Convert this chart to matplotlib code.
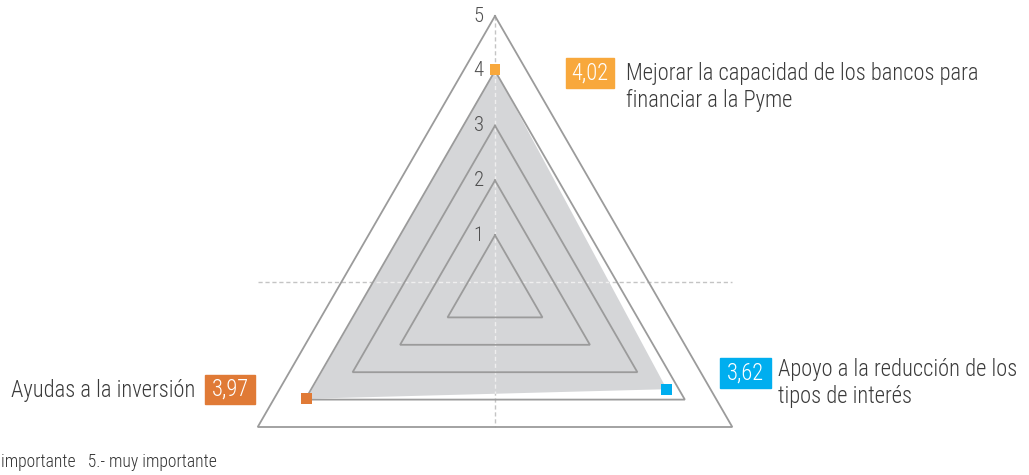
import numpy as np
import matplotlib.pyplot as plt
from matplotlib.patches import Rectangle
from matplotlib import font_manager

# pick a condensed face if there is one
avail = {f.name for f in font_manager.fontManager.ttflist}
cands = ['Roboto Condensed', 'Barlow Semi Condensed', 'Asap Condensed',
         'Archivo Narrow', 'Liberation Sans Narrow', 'DejaVu Sans']
FONT = next(f for f in cands if f in avail)
plt.rcParams['font.family'] = [FONT, 'DejaVu Sans']
plt.rcParams['font.weight'] = 'light'

# data
categories = ['Mejorar la capacidad de los bancos para\nfinanciar a la Pyme',
              'Apoyo a la reducción de los\ntipos de interés',
              'Ayudas a la inversión']
values = np.array([4.02, 3.62, 3.97])
colors = ['#f8a83c', '#00aeef', '#e07a36']
levels = [1, 2, 3, 4, 5]
footer = 'importante   5.- muy importante'

W, H = 1029, 475
UNIT = 54.8          # px per unit on the radial scale
CX, CY = 495, 185    # centre of the triangle, px from bottom-left

fig = plt.figure(figsize=(W / 100, H / 100), dpi=100)
renderer = fig.canvas.get_renderer()


def fit(txt, width_px, base=20):
    t = fig.text(0, 0, txt, fontsize=base)
    w = t.get_window_extent(renderer).width
    t.remove()
    return base * width_px / w


FS = min(fit(categories[0].split('\n')[0], 352), 18)
FS_FOOT = min(fit(footer, 216), 13)
FS_TICK = FS * 0.92

ax = fig.add_axes([0, 0, 1, 1])
ax.set_xlim(-CX / UNIT, (W - CX) / UNIT)
ax.set_ylim(-CY / UNIT, (H - CY) / UNIT)
ax.axis('off')

angles = np.deg2rad([90, -30, 210])
cos, sin = np.cos(angles), np.sin(angles)
rmax = max(levels)

# dashed cross
vx, vy = [0, 0], [rmax, rmax * sin[1]]
hx, hy = [rmax * cos[2], rmax * cos[1]], [0.15, 0.15]
ax.plot(vx, vy, ls=(0, (3, 2)), color='#c4c4c4', lw=1, zorder=0)
ax.plot(hx, hy, ls=(0, (3, 2)), color='#c4c4c4', lw=1, zorder=0)

# data polygon
poly = ax.fill(values * cos, values * sin, color='#d5d6d8', lw=0, zorder=1)[0]
for xs, ys in [(vx, vy), (hx, hy)]:
    ln, = ax.plot(xs, ys, ls=(0, (3, 2)), color='#efefef', lw=1, zorder=1.5)
    ln.set_clip_path(poly)

# triangular grid
for lvl in levels:
    xs = np.append(lvl * cos, lvl * cos[0])
    ys = np.append(lvl * sin, lvl * sin[0])
    ax.plot(xs, ys, color='#9b9b9b', lw=1.3, zorder=2, solid_joinstyle='miter')
    ax.text(-0.3, lvl, str(lvl), ha='center', va='center', fontsize=FS_TICK,
            color='#505050', zorder=4)

# markers
ax.scatter(values * cos, values * sin, marker='s', s=60, c=colors,
           linewidths=0, zorder=5)


def box(x0, y0, x1, y1, color, txt):
    fig.patches.append(Rectangle((x0 / W, 1 - y1 / H), (x1 - x0) / W,
                                 (y1 - y0) / H, transform=fig.transFigure,
                                 color=color, zorder=3))
    fig.text((x0 + x1) / 2 / W, 1 - (y0 + y1) / 2 / H, txt, ha='center',
             va='center', fontsize=FS, color='white', zorder=4)


def fmt(v):
    return f'{v:.2f}'.replace('.', ',')


# labels
box(566, 58, 614, 88, colors[0], fmt(values[0]))
fig.text(626 / W, 1 - 87 / H, categories[0], ha='left', va='center',
         fontsize=FS, color='#3a3a3a', linespacing=1.2)

box(720, 358, 771, 388, colors[1], fmt(values[1]))
fig.text(778 / W, 1 - 383 / H, categories[1], ha='left', va='center',
         fontsize=FS, color='#3a3a3a', linespacing=1.2)

box(205, 375, 255, 404, colors[2], fmt(values[2]))
fig.text(195 / W, 1 - 390 / H, categories[2], ha='right', va='center',
         fontsize=FS, color='#3a3a3a')

fig.text(1 / W, 1 - 462 / H, footer, ha='left', va='center', fontsize=FS_FOOT,
         color='#333333')

fig.savefig('out.png', dpi=100)
